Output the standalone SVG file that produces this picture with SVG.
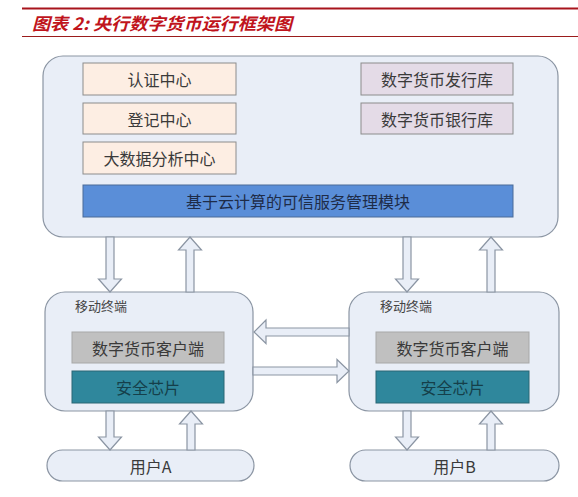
<svg xmlns="http://www.w3.org/2000/svg" width="578" height="497" viewBox="0 0 578 497">
<style>
.bg{fill:#ffffff}
.panel{fill:#e9eef7;stroke:#8b95a3;stroke-width:1.2}
.peach{fill:#fdeee3;stroke:#8c8c8c;stroke-width:1}
.purple{fill:#e4dbe7;stroke:#8c8c8c;stroke-width:1}
.bar{fill:#5a8ed8;stroke:#4a6a98;stroke-width:1}
.grey{fill:#c0c0c0;stroke:#a8a8a8;stroke-width:1}
.teal{fill:#2f879c;stroke:#2a6675;stroke-width:1}
.arrow{fill:#e9eef7;stroke:#8b95a3;stroke-width:1.2;stroke-linejoin:miter}
.t{font-family:"Noto Sans CJK SC","Noto Sans",sans-serif;font-size:16px;fill:#3a3a3a;text-anchor:middle;dominant-baseline:central}
.tbar{fill:#1e2c48}
.tteal{fill:#153f4a}
.small{font-family:"Noto Sans CJK SC","Noto Sans",sans-serif;font-size:13px;fill:#444;dominant-baseline:central}
.title{font-family:"Noto Sans CJK SC","Noto Sans",sans-serif;font-size:17px;font-weight:bold;font-style:italic;fill:#c0141c}
</style>
<rect class="bg" x="0" y="0" width="578" height="497"/>
<g id="header">
<line x1="22" y1="8.5" x2="578" y2="8.5" stroke="#a8141c" stroke-width="2"/>
<text class="title" x="32" y="30" textLength="260" lengthAdjust="spacingAndGlyphs">图表 2:  央行数字货币运行框架图</text>
<line x1="22" y1="36.5" x2="578" y2="36.5" stroke="#9b1c1c" stroke-width="1"/>
</g>
<g id="central-bank">
<rect class="panel" x="43" y="56" width="515" height="181" rx="20"/>
<g id="auth-center"><rect class="peach" x="83" y="63" width="153" height="32"/><text class="t" x="159.5" y="79">认证中心</text></g>
<g id="reg-center"><rect class="peach" x="83" y="103" width="153" height="31"/><text class="t" x="159.5" y="118.5">登记中心</text></g>
<g id="bigdata-center"><rect class="peach" x="83" y="142" width="153" height="32"/><text class="t" x="159.5" y="158">大数据分析中心</text></g>
<g id="issue-db"><rect class="purple" x="361" y="63" width="152" height="32"/><text class="t" x="437" y="79">数字货币发行库</text></g>
<g id="bank-db"><rect class="purple" x="361" y="103" width="152" height="31"/><text class="t" x="437" y="118.5">数字货币银行库</text></g>
<g id="trust-module"><rect class="bar" x="83" y="185" width="430" height="32"/><text class="t tbar" x="298" y="201">基于云计算的可信服务管理模块</text></g>
</g>
<g id="terminal-a">
<rect class="panel" x="45" y="292" width="208" height="119" rx="20"/>
<text class="small" x="75" y="305">移动终端</text>
<rect class="grey" x="72" y="332" width="152" height="31"/><text class="t" x="148" y="347.5">数字货币客户端</text>
<rect class="teal" x="72" y="371" width="152" height="32"/><text class="t tteal" x="148" y="387">安全芯片</text>
</g>
<g id="terminal-b">
<rect class="panel" x="349" y="292" width="210" height="119" rx="20"/>
<text class="small" x="380" y="305">移动终端</text>
<rect class="grey" x="376" y="332" width="153" height="31"/><text class="t" x="452.5" y="347.5">数字货币客户端</text>
<rect class="teal" x="376" y="371" width="153" height="32"/><text class="t tteal" x="452.5" y="387">安全芯片</text>
</g>
<g id="user-a">
<rect class="panel" x="47" y="450" width="207" height="31" rx="15.5"/>
<text class="t" x="150.5" y="465.5">用户A</text>
</g>
<g id="user-b">
<rect class="panel" x="350" y="450" width="209" height="31" rx="15.5"/>
<text class="t" x="454.5" y="465.5">用户B</text>
</g>
<g id="connectors">
<!-- top: bank to terminals -->
<polygon class="arrow" points="106,237 114,237 114,279 121.5,279 110,292 98.5,279 106,279"/>
<polygon class="arrow" points="186,292 194,292 194,250 201.5,250 190,237 178.5,250 186,250"/>
<polygon class="arrow" points="403,237 411,237 411,279 418.5,279 407,292 395.5,279 403,279"/>
<polygon class="arrow" points="487,292 495,292 495,250 502.5,250 491,237 479.5,250 487,250"/>
<!-- horizontal -->
<polygon class="arrow" points="349,328 266,328 266,320 254,332 266,343.5 266,336 349,336"/>
<polygon class="arrow" points="253,367 337,367 337,359.5 349,371 337,382.5 337,375 253,375"/>
<!-- bottom: terminals to users -->
<polygon class="arrow" points="106,411 114,411 114,437 121.5,437 110,450 98.5,437 106,437"/>
<polygon class="arrow" points="187,450 195,450 195,424 202.5,424 191,411 179.5,424 187,424"/>
<polygon class="arrow" points="403,411 411,411 411,437 418.5,437 407,450 395.5,437 403,437"/>
<polygon class="arrow" points="487,450 495,450 495,424 502.5,424 491,411 479.5,424 487,424"/>
</g>
</svg>
